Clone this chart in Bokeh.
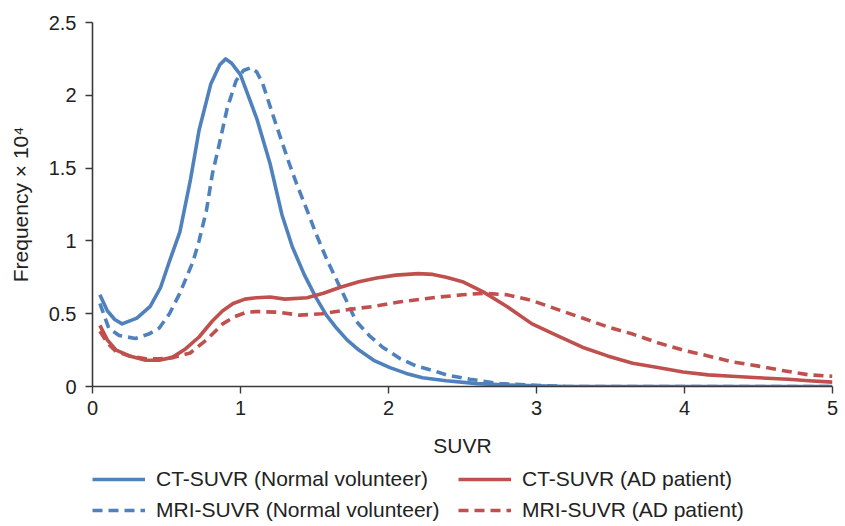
from bokeh.plotting import figure
from bokeh.layouts import column
from bokeh.models import Legend, LegendItem, FixedTicker, NumeralTickFormatter, Range1d
from bokeh.embed import file_html
from bokeh.resources import INLINE

# ---- data ----
ct_normal_x = [0.05, 0.1, 0.15, 0.2, 0.3, 0.39, 0.46, 0.52, 0.59, 0.66, 0.72, 0.80, 0.86, 0.90,
               0.94, 1.0, 1.11, 1.20, 1.28, 1.35, 1.43, 1.51, 1.58, 1.65, 1.72, 1.80, 1.90,
               2.01, 2.12, 2.23, 2.39, 2.6, 2.8, 3.0, 3.2, 3.6, 4.0, 4.5, 5.0]
ct_normal_y = [0.63, 0.52, 0.46, 0.43, 0.47, 0.55, 0.68, 0.86, 1.06, 1.41, 1.76, 2.08, 2.21, 2.25,
               2.22, 2.14, 1.84, 1.53, 1.18, 0.96, 0.77, 0.61, 0.49, 0.40, 0.32, 0.25, 0.18,
               0.13, 0.09, 0.06, 0.04, 0.02, 0.01, 0.005, 0.0, 0.0, 0.0, 0.0, 0.0]

mri_normal_x = [0.05, 0.11, 0.18, 0.29, 0.38, 0.45, 0.52, 0.59, 0.68, 0.72, 0.77, 0.81, 0.86, 0.91,
                0.97, 1.02, 1.07, 1.11, 1.15, 1.24, 1.33, 1.38, 1.45, 1.51, 1.58, 1.65, 1.72,
                1.78, 1.87, 1.96, 2.08, 2.19, 2.30, 2.39, 2.55, 2.75, 2.95, 3.2, 3.6, 4.0, 4.5, 5.0]
mri_normal_y = [0.57, 0.40, 0.35, 0.33, 0.36, 0.40, 0.50, 0.64, 0.86, 1.0, 1.21, 1.46, 1.68, 1.91,
                2.10, 2.17, 2.19, 2.16, 2.08, 1.80, 1.53, 1.39, 1.21, 1.05, 0.88, 0.73, 0.58,
                0.45, 0.35, 0.27, 0.19, 0.14, 0.11, 0.08, 0.05, 0.02, 0.01, 0.0, 0.0, 0.0, 0.0, 0.0]

ct_ad_x = [0.05, 0.1, 0.16, 0.25, 0.36, 0.45, 0.54, 0.63, 0.72, 0.81, 0.88, 0.95, 1.03, 1.11, 1.2,
           1.3, 1.45, 1.56, 1.67, 1.8, 1.92, 2.05, 2.2, 2.3, 2.39, 2.5, 2.64, 2.8, 2.97, 3.14,
           3.31, 3.48, 3.65, 3.82, 3.99, 4.16, 4.32, 4.5, 4.7, 4.84, 5.0]
ct_ad_y = [0.42, 0.32, 0.25, 0.21, 0.18, 0.18, 0.20, 0.26, 0.34, 0.45, 0.52, 0.57, 0.60, 0.61, 0.615,
           0.60, 0.61, 0.64, 0.68, 0.72, 0.745, 0.765, 0.775, 0.77, 0.75, 0.72, 0.65, 0.55, 0.43, 0.35,
           0.27, 0.21, 0.16, 0.13, 0.10, 0.08, 0.07, 0.06, 0.05, 0.04, 0.03]

mri_ad_x = [0.05, 0.1, 0.16, 0.25, 0.36, 0.45, 0.55, 0.66, 0.77, 0.88, 0.96, 1.04, 1.11, 1.26, 1.4,
            1.55, 1.74, 1.9, 2.07, 2.3, 2.5, 2.64, 2.8, 2.97, 3.14, 3.31, 3.48, 3.65, 3.82, 3.99,
            4.16, 4.32, 4.5, 4.66, 4.84, 5.0]
mri_ad_y = [0.38, 0.30, 0.24, 0.21, 0.19, 0.19, 0.20, 0.23, 0.32, 0.43, 0.48, 0.51, 0.515, 0.51, 0.49,
            0.50, 0.53, 0.55, 0.58, 0.61, 0.63, 0.64, 0.63, 0.59, 0.53, 0.47, 0.41, 0.36, 0.30, 0.25,
            0.21, 0.17, 0.14, 0.11, 0.08, 0.07]

x_ticks = [0, 1, 2, 3, 4, 5]
y_ticks = [0, 0.5, 1, 1.5, 2, 2.5]

labels = ["CT-SUVR (Normal volunteer)", "MRI-SUVR (Normal volunteer)",
          "CT-SUVR (AD patient)", "MRI-SUVR (AD patient)"]

BLUE = "#4F81BD"
RED = "#C0504D"
FONT = "Liberation Sans"
AXIS_COLOR = "#3a3a3a"
TXT = "#222222"
LW = 3.6
DASH = "10 6"
NAN = float("nan")

# ---- main chart ----
p = figure(width=845, height=460, output_backend="svg", toolbar_location=None,
           x_range=Range1d(0, 5), y_range=Range1d(0, 2.5),
           min_border_left=92, min_border_right=13, min_border_top=22, min_border_bottom=74)
p.outline_line_color = None
p.xgrid.visible = False
p.ygrid.visible = False
p.background_fill_color = "white"
p.border_fill_color = "white"

series = [
    (ct_normal_x, ct_normal_y, BLUE, "solid"),
    (mri_normal_x, mri_normal_y, BLUE, DASH),
    (ct_ad_x, ct_ad_y, RED, "solid"),
    (mri_ad_x, mri_ad_y, RED, DASH),
]
for xs, ys, col, dsh in series:
    p.line(xs, ys, line_color=col, line_width=LW, line_dash=dsh, line_join="round")

for ax in (p.xaxis[0], p.yaxis[0]):
    ax.axis_line_color = AXIS_COLOR
    ax.axis_line_width = 1.6
    ax.major_tick_line_color = AXIS_COLOR
    ax.major_tick_line_width = 1.4
    ax.major_tick_in = 0
    ax.major_tick_out = 7
    ax.minor_tick_line_color = None
    ax.major_label_text_font = FONT
    ax.major_label_text_font_size = "20px"
    ax.major_label_text_color = TXT
    ax.axis_label_text_font = FONT
    ax.axis_label_text_font_size = "21px"
    ax.axis_label_text_font_style = "normal"
    ax.axis_label_text_color = TXT

p.xaxis.ticker = FixedTicker(ticks=x_ticks)
p.yaxis.ticker = FixedTicker(ticks=y_ticks)
p.yaxis.formatter = NumeralTickFormatter(format="0.[0]")
p.xaxis.formatter = NumeralTickFormatter(format="0")
p.xaxis.axis_label = "SUVR"
p.yaxis.axis_label = "Frequency \u00d7 10\u2074"
p.xaxis.major_label_standoff = 7
p.xaxis.axis_label_standoff = 16
p.yaxis.major_label_standoff = 9
p.yaxis.axis_label_standoff = 14

# ---- legend strip (legend-only key renderers carry the line styles, no visible data) ----
lg = figure(width=845, height=66, output_backend="svg", toolbar_location=None,
            x_axis_location=None, y_axis_location=None,
            x_range=Range1d(0, 1), y_range=Range1d(0, 1),
            min_border_left=73, min_border_right=0, min_border_top=0, min_border_bottom=0)
lg.outline_line_color = None
lg.xgrid.visible = False
lg.ygrid.visible = False
lg.background_fill_color = "white"
lg.border_fill_color = "white"
key_renderers = [lg.line([0, 1], [NAN, NAN], line_color=col, line_width=LW, line_dash=dsh)
                 for _, _, col, dsh in series]

legend = Legend(
    items=[LegendItem(label=lab, renderers=[r]) for lab, r in zip(labels, key_renderers)],
    orientation="vertical", ncols=2, location=(0, 4),
    glyph_width=53, glyph_height=20, label_height=20, label_standoff=11, label_width=295,
    spacing=7, padding=0, margin=0,
    border_line_alpha=0, background_fill_alpha=0,
    label_text_font=FONT, label_text_font_size="21px", label_text_color=TXT)
lg.add_layout(legend, "center")

layout = column(p, lg, spacing=0)
open("out.html", "w").write(file_html(layout, INLINE))
